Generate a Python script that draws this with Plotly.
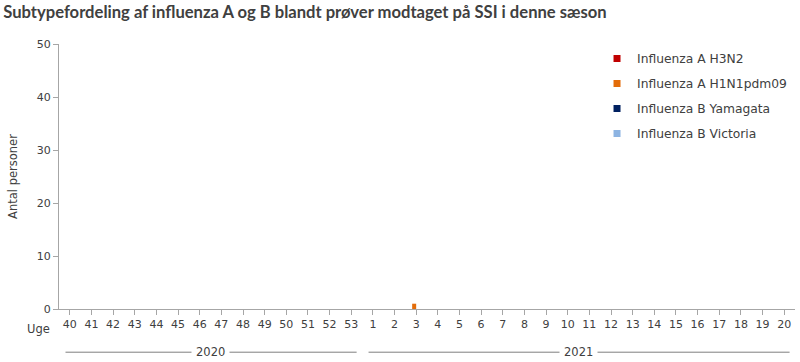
import plotly.graph_objects as go

weeks = ["40","41","42","43","44","45","46","47","48","49","50","51","52","53",
         "1","2","3","4","5","6","7","8","9","10","11","12","13","14","15","16","17","18","19","20"]
years = ["2020"]*14 + ["2021"]*20
series_names = ["Influenza A H3N2", "Influenza A H1N1pdm09", "Influenza B Yamagata", "Influenza B Victoria"]
h3n2 = [0]*34
h1n1 = [0]*34
h1n1[16] = 1
yamagata = [0]*34
victoria = [0]*34
values = [h3n2, h1n1, yamagata, victoria]
colors = ["#C00000", "#E36C09", "#002060", "#8DB4E2"]
year_labels = ["2020", "2021"]

FONT = "DejaVu Sans"
TXT = "#404040"
AX = "#A6A6A6"

fig = go.Figure()
for i, (name, vals, c) in enumerate(zip(series_names, values, colors)):
    fig.add_trace(go.Bar(x=list(range(len(weeks))), y=vals, name=name, marker_color=c,
                         marker_line_width=0, showlegend=False))
    # legend entry with small square symbol
    fig.add_trace(go.Scatter(x=[None], y=[None], mode="markers", name=name,
                             marker=dict(symbol="square", size=7, color=c),
                             legendgroup=f"g{i}", showlegend=True))

fig.update_layout(
    width=800, height=362,
    barmode="group", bargap=0.26, bargroupgap=0,
    plot_bgcolor="white", paper_bgcolor="white",
    margin=dict(l=59, r=5, t=44, b=53),
    font=dict(family=FONT, size=12, color=TXT),
    title=dict(text="Subtypefordeling af influenza A og B blandt prøver modtaget på SSI i denne sæson",
               x=0.004, xanchor="left", y=0.967, yanchor="middle",
               font=dict(family="Lato", size=16.6, color=TXT, weight="bold")),
    legend=dict(x=0.731, y=1.0, xanchor="left", yanchor="top", bgcolor="rgba(0,0,0,0)",
                font=dict(family=FONT, size=12.3, color=TXT), tracegroupgap=6,
                itemwidth=30, traceorder="grouped"),
    showlegend=True,
)
fig.update_xaxes(
    tickmode="array", tickvals=list(range(len(weeks))), ticktext=weeks,
    range=[-0.5, len(weeks)-0.5],
    showline=True, linecolor=AX, linewidth=1,
    ticks="outside", ticklen=5, tickcolor=AX, tickson="boundaries",
    showgrid=False, zeroline=False,
    tickfont=dict(family=FONT, size=11, color=TXT),
)
fig.update_yaxes(
    range=[0, 50], dtick=10,
    showline=True, linecolor=AX, linewidth=1,
    ticks="outside", ticklen=5, tickcolor=AX,
    showgrid=False, zeroline=False,
    title=dict(text="Antal personer", font=dict(family=FONT, size=11.5, color=TXT), standoff=16),
    tickfont=dict(family=FONT, size=11, color=TXT),
)

fig.add_annotation(text="Uge", x=-0.5, xref="x", y=0, yref="paper", xanchor="right",
                   yanchor="top", xshift=-7, yshift=-11, showarrow=False,
                   font=dict(family=FONT, size=11.5, color=TXT))

# year group brackets
for yl in year_labels:
    idx = [i for i, y in enumerate(years) if y == yl]
    a, b = idx[0] - 0.5, idx[-1] + 0.5
    mid = (a + b) / 2
    fig.add_annotation(text=yl, x=mid, xref="x", y=0, yref="paper", yanchor="middle",
                       yshift=-43, showarrow=False, bgcolor="white", borderpad=4,
                       font=dict(family=FONT, size=11.5, color=TXT))
    fig.add_shape(type="line", x0=a + 0.3, x1=b - 0.25, xref="x", y0=-0.163, y1=-0.163,
                  yref="paper", line=dict(color="#7F7F7F", width=1), layer="below")

fig.write_html("out.html", config={"displayModeBar": False},
               post_script="document.body.style.margin='0px';")
